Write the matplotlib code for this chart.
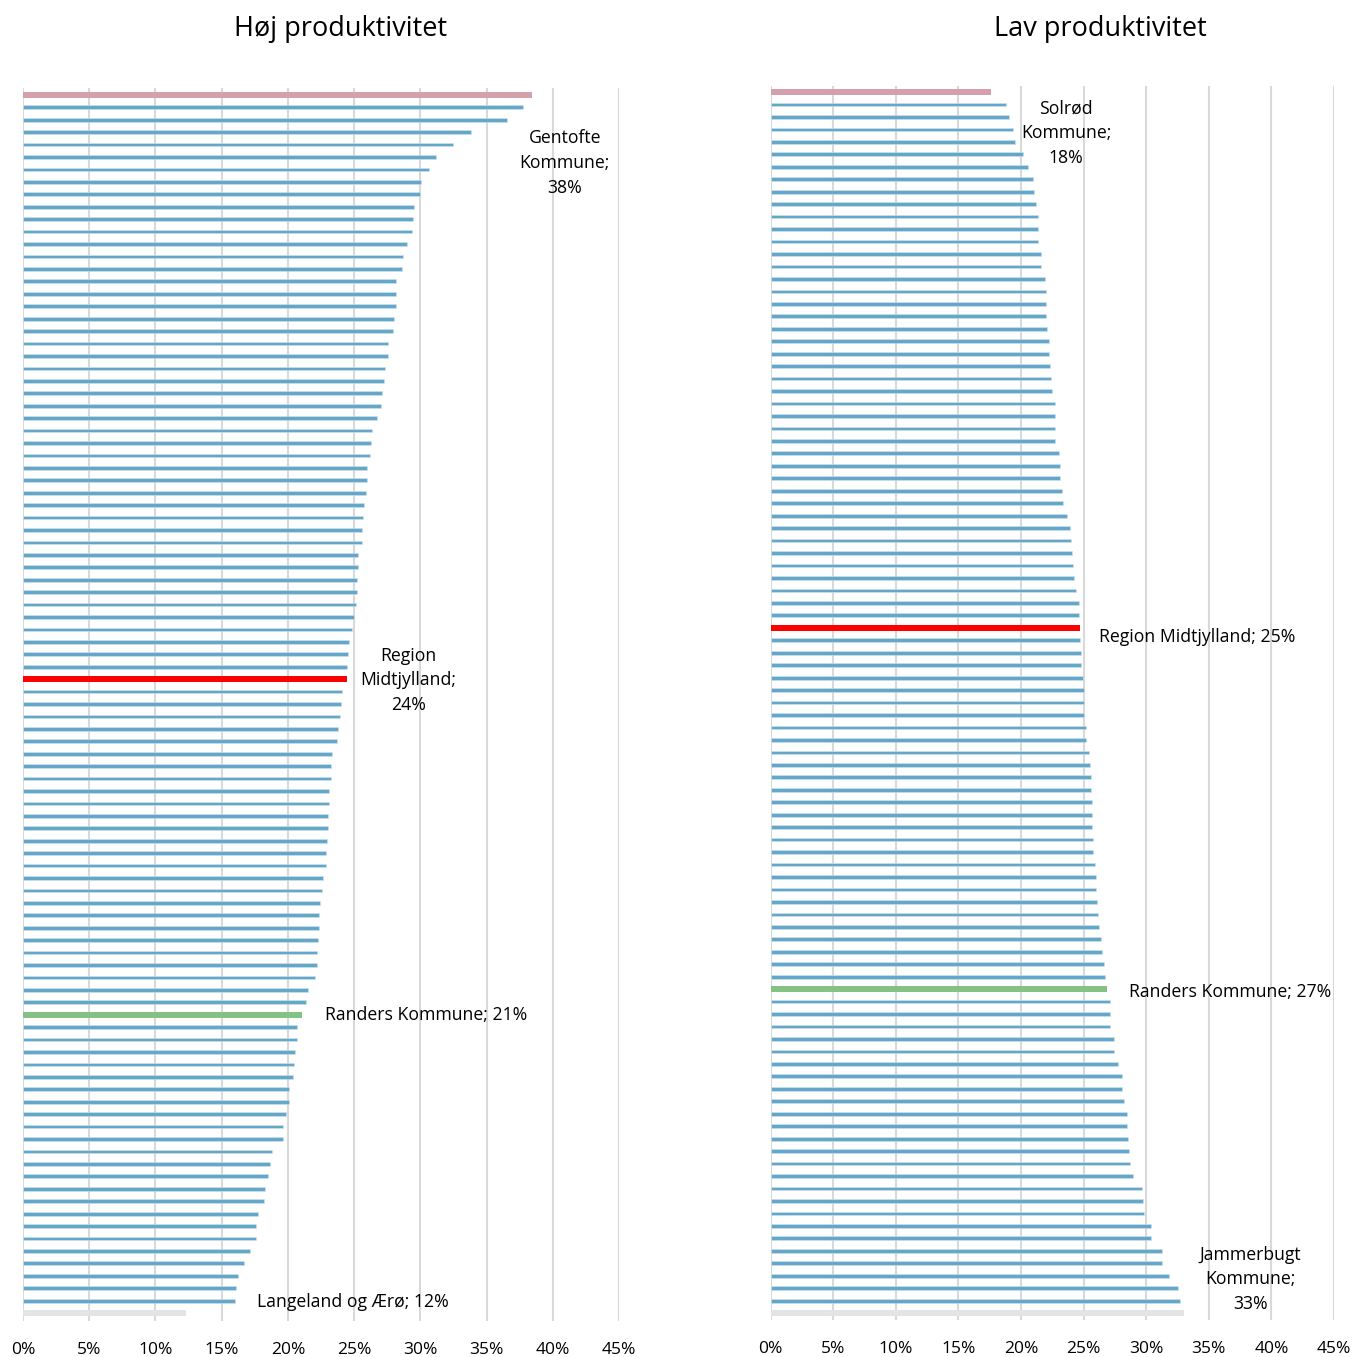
import matplotlib.pyplot as plt
from matplotlib.ticker import PercentFormatter

plt.rcParams['font.family'] = ['Open Sans', 'DejaVu Sans']

# andel i procent, sorteret som i figuren (øverst -> nederst)
hoej_values = [
    38.47, 37.78, 36.56, 33.86, 32.49, 31.20, 30.66, 30.03, 29.97, 29.49,
    29.46, 29.37, 28.98, 28.68, 28.59, 28.20, 28.17, 28.14, 28.05, 27.93,
    27.57, 27.54, 27.31, 27.28, 27.10, 27.07, 26.74, 26.35, 26.29, 26.17,
    25.99, 25.99, 25.90, 25.78, 25.69, 25.60, 25.57, 25.33, 25.33, 25.21,
    25.21, 25.18, 25.03, 24.82, 24.61, 24.55, 24.49, 24.43, 24.10, 24.04,
    23.95, 23.77, 23.71, 23.32, 23.29, 23.29, 23.14, 23.11, 23.05, 23.02,
    22.96, 22.90, 22.87, 22.63, 22.57, 22.46, 22.34, 22.34, 22.25, 22.19,
    22.19, 22.04, 21.53, 21.38, 21.05, 20.72, 20.69, 20.54, 20.45, 20.39,
    20.12, 20.12, 19.88, 19.61, 19.61, 18.77, 18.62, 18.50, 18.26, 18.20,
    17.72, 17.60, 17.57, 17.16, 16.68, 16.20, 16.11, 15.99, 12.31,
]
lav_values = [
    17.62, 18.77, 19.01, 19.34, 19.49, 20.15, 20.54, 20.93, 21.02, 21.17,
    21.33, 21.36, 21.39, 21.60, 21.63, 21.93, 21.99, 22.02, 22.02, 22.11,
    22.20, 22.23, 22.29, 22.41, 22.44, 22.68, 22.74, 22.74, 22.74, 23.01,
    23.13, 23.13, 23.25, 23.34, 23.70, 23.95, 23.98, 24.10, 24.13, 24.22,
    24.43, 24.61, 24.64, 24.73, 24.70, 24.76, 24.82, 24.94, 25.00, 25.00,
    25.00, 25.21, 25.21, 25.42, 25.54, 25.57, 25.57, 25.63, 25.69, 25.69,
    25.75, 25.78, 25.90, 25.99, 26.02, 26.05, 26.14, 26.23, 26.42, 26.48,
    26.63, 26.69, 26.84, 27.08, 27.11, 27.14, 27.41, 27.44, 27.71, 28.04,
    28.10, 28.22, 28.49, 28.49, 28.55, 28.61, 28.67, 28.95, 29.64, 29.76,
    29.85, 30.39, 30.39, 31.27, 31.27, 31.78, 32.56, 32.68, 32.98,
]

# fremhævede kommuner: position i listen -> farve
hoej_highlight = {0: '#d69fac', 47: '#ff0000', 74: '#84c283', 98: '#e4e4e4'}
lav_highlight = {0: '#d69fac', 43: '#ff0000', 72: '#84c283', 98: '#e4e4e4'}

ticks = [0, 5, 10, 15, 20, 25, 30, 35, 40, 45]
BLUE = '#65a7c9'

fig = plt.figure(figsize=(13.52, 13.57), dpi=100)
ax1 = fig.add_axes([0.017, 0.0265, 0.4408, 0.9087])
ax2 = fig.add_axes([0.570, 0.0272, 0.4167, 0.9094])


def draw_panel(ax, values, highlight, ylim):
    for i, v in enumerate(values):
        if i in highlight:
            ax.barh(i, v, height=0.52, color=highlight[i], zorder=3)
        else:
            ax.barh(i, v, height=0.30, color=BLUE, edgecolor='#cfe3ee',
                    linewidth=0.4, zorder=3)
    ax.set_xlim(0, 45)
    ax.set_ylim(*ylim)
    ax.set_xticks(ticks)
    ax.xaxis.set_major_formatter(PercentFormatter(decimals=0))
    ax.set_yticks([])
    ax.grid(axis='x', color='#d9d9d9', linewidth=1.5, zorder=0)
    for s in ax.spines.values():
        s.set_visible(False)
    ax.tick_params(axis='x', length=0, labelsize=12.5, pad=15)


draw_panel(ax1, hoej_values, hoej_highlight, (98.64, -0.56))
draw_panel(ax2, lav_values, lav_highlight, (98.56, -0.48))

fs = 12.7
ls = 1.48
ax1.text(40.9, 5.47, 'Gentofte\nKommune;\n38%', ha='center', va='center',
         fontsize=fs, linespacing=ls)
ax1.text(29.1, 47.1, 'Region\nMidtjylland;\n24%', ha='center', va='center',
         fontsize=fs, linespacing=ls)
ax1.text(22.8, 74.0, 'Randers Kommune; 21%', ha='left', va='center',
         fontsize=fs)
ax1.text(24.9, 97.1, 'Langeland og Ærø; 12%', ha='center', va='center',
         fontsize=fs)

ax2.text(23.6, 3.3, 'Solrød\nKommune;\n18%', ha='center', va='center',
         fontsize=fs, linespacing=ls)
ax2.text(26.2, 43.7, 'Region Midtjylland; 25%', ha='left', va='center',
         fontsize=fs)
ax2.text(28.6, 72.2, 'Randers Kommune; 27%', ha='left', va='center',
         fontsize=fs)
ax2.text(38.3, 95.3, 'Jammerbugt\nKommune;\n33%', ha='center', va='center',
         fontsize=fs, linespacing=ls)

fig.text(341 / 1352, 1 - 29 / 1357, 'Høj produktivitet', ha='center',
         va='center', fontsize=19.5)
fig.text(1100 / 1352, 1 - 29 / 1357, 'Lav produktivitet', ha='center',
         va='center', fontsize=19.5)

fig.savefig('out.png', dpi=100)
